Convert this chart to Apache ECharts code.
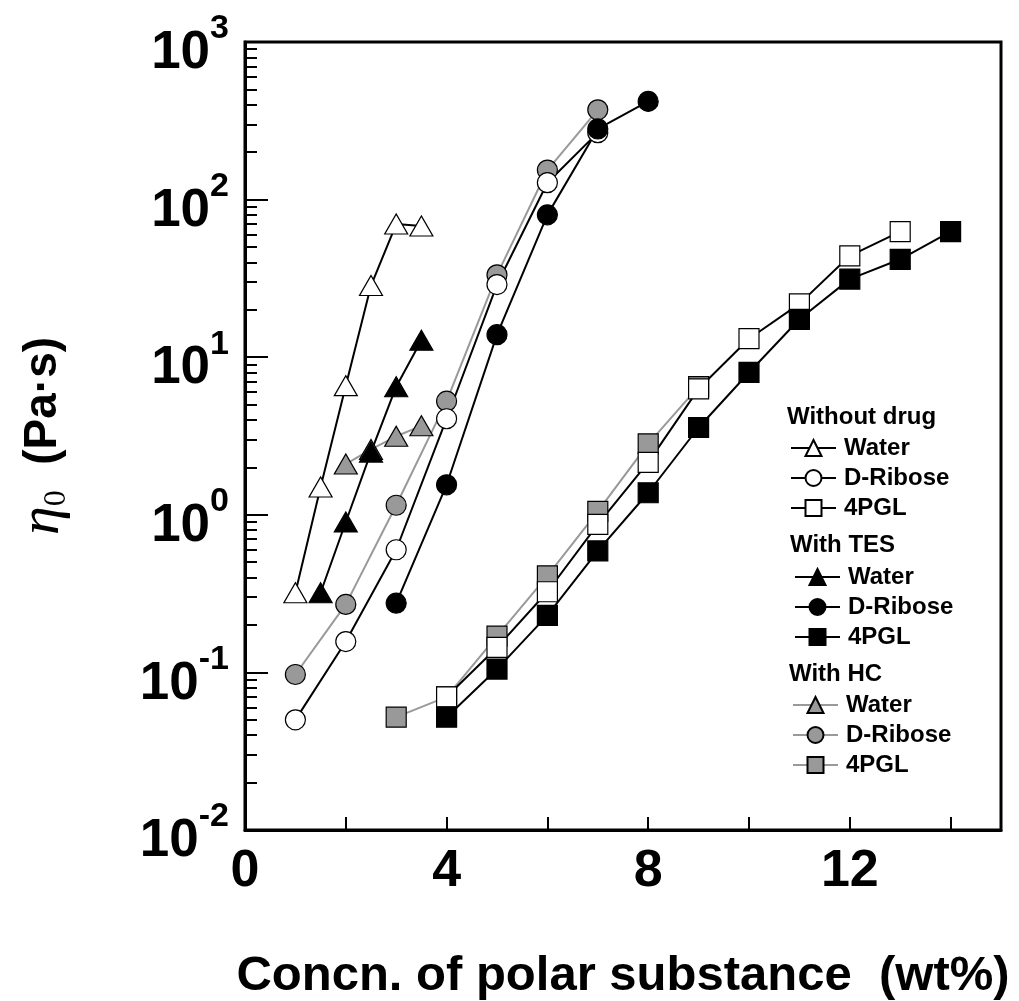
<!DOCTYPE html>
<html>
<head>
<meta charset="utf-8">
<script src="https://cdn.jsdelivr.net/npm/echarts@6/dist/echarts.min.js"></script>
<style>
html,body{margin:0;padding:0;background:#fff;}
#chart{width:1019px;height:1001px;}
</style>
</head>
<body>
<div id="chart"></div>
<script>
// ---------- tick labels ----------
const xTickLabelValues = [0, 4, 8, 12];
const yDecadeValues = [0.01, 0.1, 1, 10, 100, 1000];
const yDecadeExponents = ['-2', '-1', '0', '1', '2', '3'];
const yMinorTickValues = [
  0.02, 0.03, 0.04, 0.05, 0.06, 0.07, 0.08, 0.09,
  0.2, 0.3, 0.4, 0.5, 0.6, 0.7, 0.8, 0.9,
  2, 3, 4, 5, 6, 7, 8, 9,
  20, 30, 40, 50, 60, 70, 80, 90,
  200, 300, 400, 500, 600, 700, 800, 900
];

// ---------- legend group titles ----------
const groupTitles = ['Without drug', 'With TES', 'With HC'];
const substanceNames = ['Water', 'D-Ribose', '4PGL'];

// ---------- data: Without drug ----------
const ndWaterX = [1, 1.5, 2, 2.5, 3, 3.5];
const ndWaterY = [0.32, 1.50, 6.6, 28.5, 70, 68];
const ndRiboseX = [1, 2, 3, 4, 5, 6, 7];
const ndRiboseY = [0.050, 0.157, 0.60, 4.07, 28.9, 128, 266];
const nd4pglX = [4, 5, 6, 7, 8, 9, 10, 11, 12, 13];
const nd4pglY = [0.070, 0.144, 0.325, 0.87, 2.15, 6.3, 13.1, 21.8, 44, 62.7];

// ---------- data: With TES ----------
const tesWaterX = [1.5, 2, 2.5, 3, 3.5];
const tesWaterY = [0.32, 0.90, 2.5, 6.5, 12.8];
const tesRiboseX = [3, 4, 5, 6, 7, 8];
const tesRiboseY = [0.275, 1.55, 13.9, 80, 281, 420];
const tes4pglX = [4, 5, 6, 7, 8, 9, 10, 11, 12, 13, 14];
const tes4pglY = [0.052, 0.105, 0.23, 0.59, 1.38, 3.58, 8.0, 17.4, 31.3, 41.8, 62.7];

// ---------- data: With HC ----------
const hcWaterX = [2, 2.5, 3, 3.5];
const hcWaterY = [2.1, 2.6, 3.15, 3.67];
const hcRiboseX = [1, 2, 3, 4, 5, 6, 7];
const hcRiboseY = [0.097, 0.27, 1.15, 5.26, 33.3, 154, 371];
const hc4pglX = [3, 4, 5, 6, 7, 8, 9];
const hc4pglY = [0.052, 0.070, 0.17, 0.41, 1.05, 2.82, 6.5];

// ---------- build ----------
const SANS = "'Liberation Sans', Arial, Helvetica, sans-serif";
const SERIF = "'Liberation Serif', 'Times New Roman', serif";
const GREY = '#999999';

function pairs(xs, ys) { return xs.map((x, i) => [x, ys[i]]); }

function mkSeries(name, xs, ys, symbol, size, fill, lineColor) {
  return {
    type: 'line',
    name: name,
    data: pairs(xs, ys),
    symbol: symbol,
    symbolSize: size,
    showSymbol: true,
    showAllSymbol: true,
    lineStyle: { color: lineColor, width: 2 },
    itemStyle: { color: fill, borderColor: '#000', borderWidth: 1.2 },
    emphasis: { disabled: true },
    silent: true,
    animation: false
  };
}

const TRI = [23, 20], CIR = 20, SQ = 20;

const series = [
  mkSeries('With HC|Water', hcWaterX, hcWaterY, 'triangle', TRI, GREY, GREY),
  mkSeries('With HC|D-Ribose', hcRiboseX, hcRiboseY, 'circle', CIR, GREY, GREY),
  mkSeries('With HC|4PGL', hc4pglX, hc4pglY, 'rect', SQ, GREY, GREY),
  mkSeries('Without drug|Water', ndWaterX, ndWaterY, 'triangle', TRI, '#ffffff', '#000'),
  mkSeries('Without drug|D-Ribose', ndRiboseX, ndRiboseY, 'circle', CIR, '#ffffff', '#000'),
  mkSeries('Without drug|4PGL', nd4pglX, nd4pglY, 'rect', SQ, '#ffffff', '#000'),
  mkSeries('With TES|Water', tesWaterX, tesWaterY, 'triangle', TRI, '#000', '#000'),
  mkSeries('With TES|D-Ribose', tesRiboseX, tesRiboseY, 'circle', CIR, '#000', '#000'),
  mkSeries('With TES|4PGL', tes4pglX, tes4pglY, 'rect', SQ, '#000', '#000')
];

function legendFor(group, left, top) {
  return {
    orient: 'vertical',
    left: left,
    top: top,
    padding: 0,
    itemWidth: 45,
    itemHeight: 20,
    itemGap: 6,
    selectedMode: false,
    data: substanceNames.map(s => group + '|' + s),
    formatter: n => n.split('|')[1],
    textStyle: { fontFamily: SANS, fontWeight: 'bold', fontSize: 24, color: '#000', lineHeight: 24, padding: [0, 0, 0, 3] }
  };
}

const legendTops = [436, 565, 693];
const legendLefts = [790, 794, 792];
const titleTops = [418, 546, 675];
const titleLefts = [787, 790, 789];

const option = {
  backgroundColor: '#ffffff',
  animation: false,
  grid: {
    left: 245, top: 42, right: 18, bottom: 171,
    outerBoundsMode: 'none',
    containLabel: false,
    show: true, borderColor: '#000', borderWidth: 3, backgroundColor: 'transparent'
  },
  xAxis: {
    type: 'value',
    min: 0, max: 15, interval: 2,
    axisLine: { show: true, lineStyle: { color: '#000', width: 3 } },
    axisTick: { show: true, inside: true, length: 13, lineStyle: { color: '#000', width: 2 } },
    splitLine: { show: false },
    axisLabel: {
      customValues: xTickLabelValues,
      formatter: v => String(v),
      fontFamily: SANS, fontWeight: 'bold', fontSize: 52, color: '#000', margin: 16
    },
    name: 'Concn. of polar substance  (wt%)',
    nameLocation: 'middle',
    nameGap: 122,
    nameTextStyle: { fontFamily: SANS, fontWeight: 'bold', fontSize: 49, color: '#000' }
  },
  yAxis: [
    {
      type: 'log', logBase: 10, min: 0.01, max: 1000,
      axisLine: { show: true, lineStyle: { color: '#000', width: 3 } },
      axisTick: { show: true, inside: true, length: 23, lineStyle: { color: '#000', width: 2 } },
      splitLine: { show: false },
      axisLabel: {
        margin: 16,
        padding: [8, 0, 0, 0],
        formatter: v => {
          const e = Math.round(Math.log10(v));
          const idx = yDecadeValues.findIndex(d => Math.round(Math.log10(d)) === e);
          return '{b|10}{s|' + yDecadeExponents[idx] + '}';
        },
        rich: {
          b: { fontFamily: SANS, fontWeight: 'bold', fontSize: 53, color: '#000', lineHeight: 68, verticalAlign: 'bottom' },
          s: { fontFamily: SANS, fontWeight: 'bold', fontSize: 34, color: '#000', verticalAlign: 'top' }
        }
      },
      name: '{e|η}{z|0}{t|  (Pa·s)}',
      nameLocation: 'middle',
      nameGap: 172,
      nameTextStyle: {
        rich: {
          e: { fontFamily: SERIF, fontStyle: 'italic', fontSize: 58, color: '#000', lineHeight: 60 },
          z: { fontFamily: SERIF, fontSize: 32, color: '#000', verticalAlign: 'bottom' },
          t: { fontFamily: SANS, fontWeight: 'bold', fontSize: 46, color: '#000' }
        }
      }
    },
    {
      type: 'log', logBase: 10, min: 0.01, max: 1000,
      position: 'left',
      axisLine: { show: false },
      axisTick: { show: true, inside: true, length: 12, customValues: yMinorTickValues, lineStyle: { color: '#000', width: 2 } },
      axisLabel: { show: false },
      splitLine: { show: false }
    }
  ],
  legend: [
    legendFor(groupTitles[0], legendLefts[0], legendTops[0]),
    legendFor(groupTitles[1], legendLefts[1], legendTops[1]),
    legendFor(groupTitles[2], legendLefts[2], legendTops[2])
  ],
  graphic: groupTitles.map((t, i) => ({
    type: 'text',
    left: titleLefts[i],
    top: titleTops[i] - 13,
    silent: true,
    style: { text: t, fontFamily: SANS, fontWeight: 'bold', fontSize: 24, fill: '#000' }
  })),
  series: series
};

const chart = echarts.init(document.getElementById('chart'), null, { renderer: 'canvas' });
chart.setOption(option);
</script>
</body>
</html>
